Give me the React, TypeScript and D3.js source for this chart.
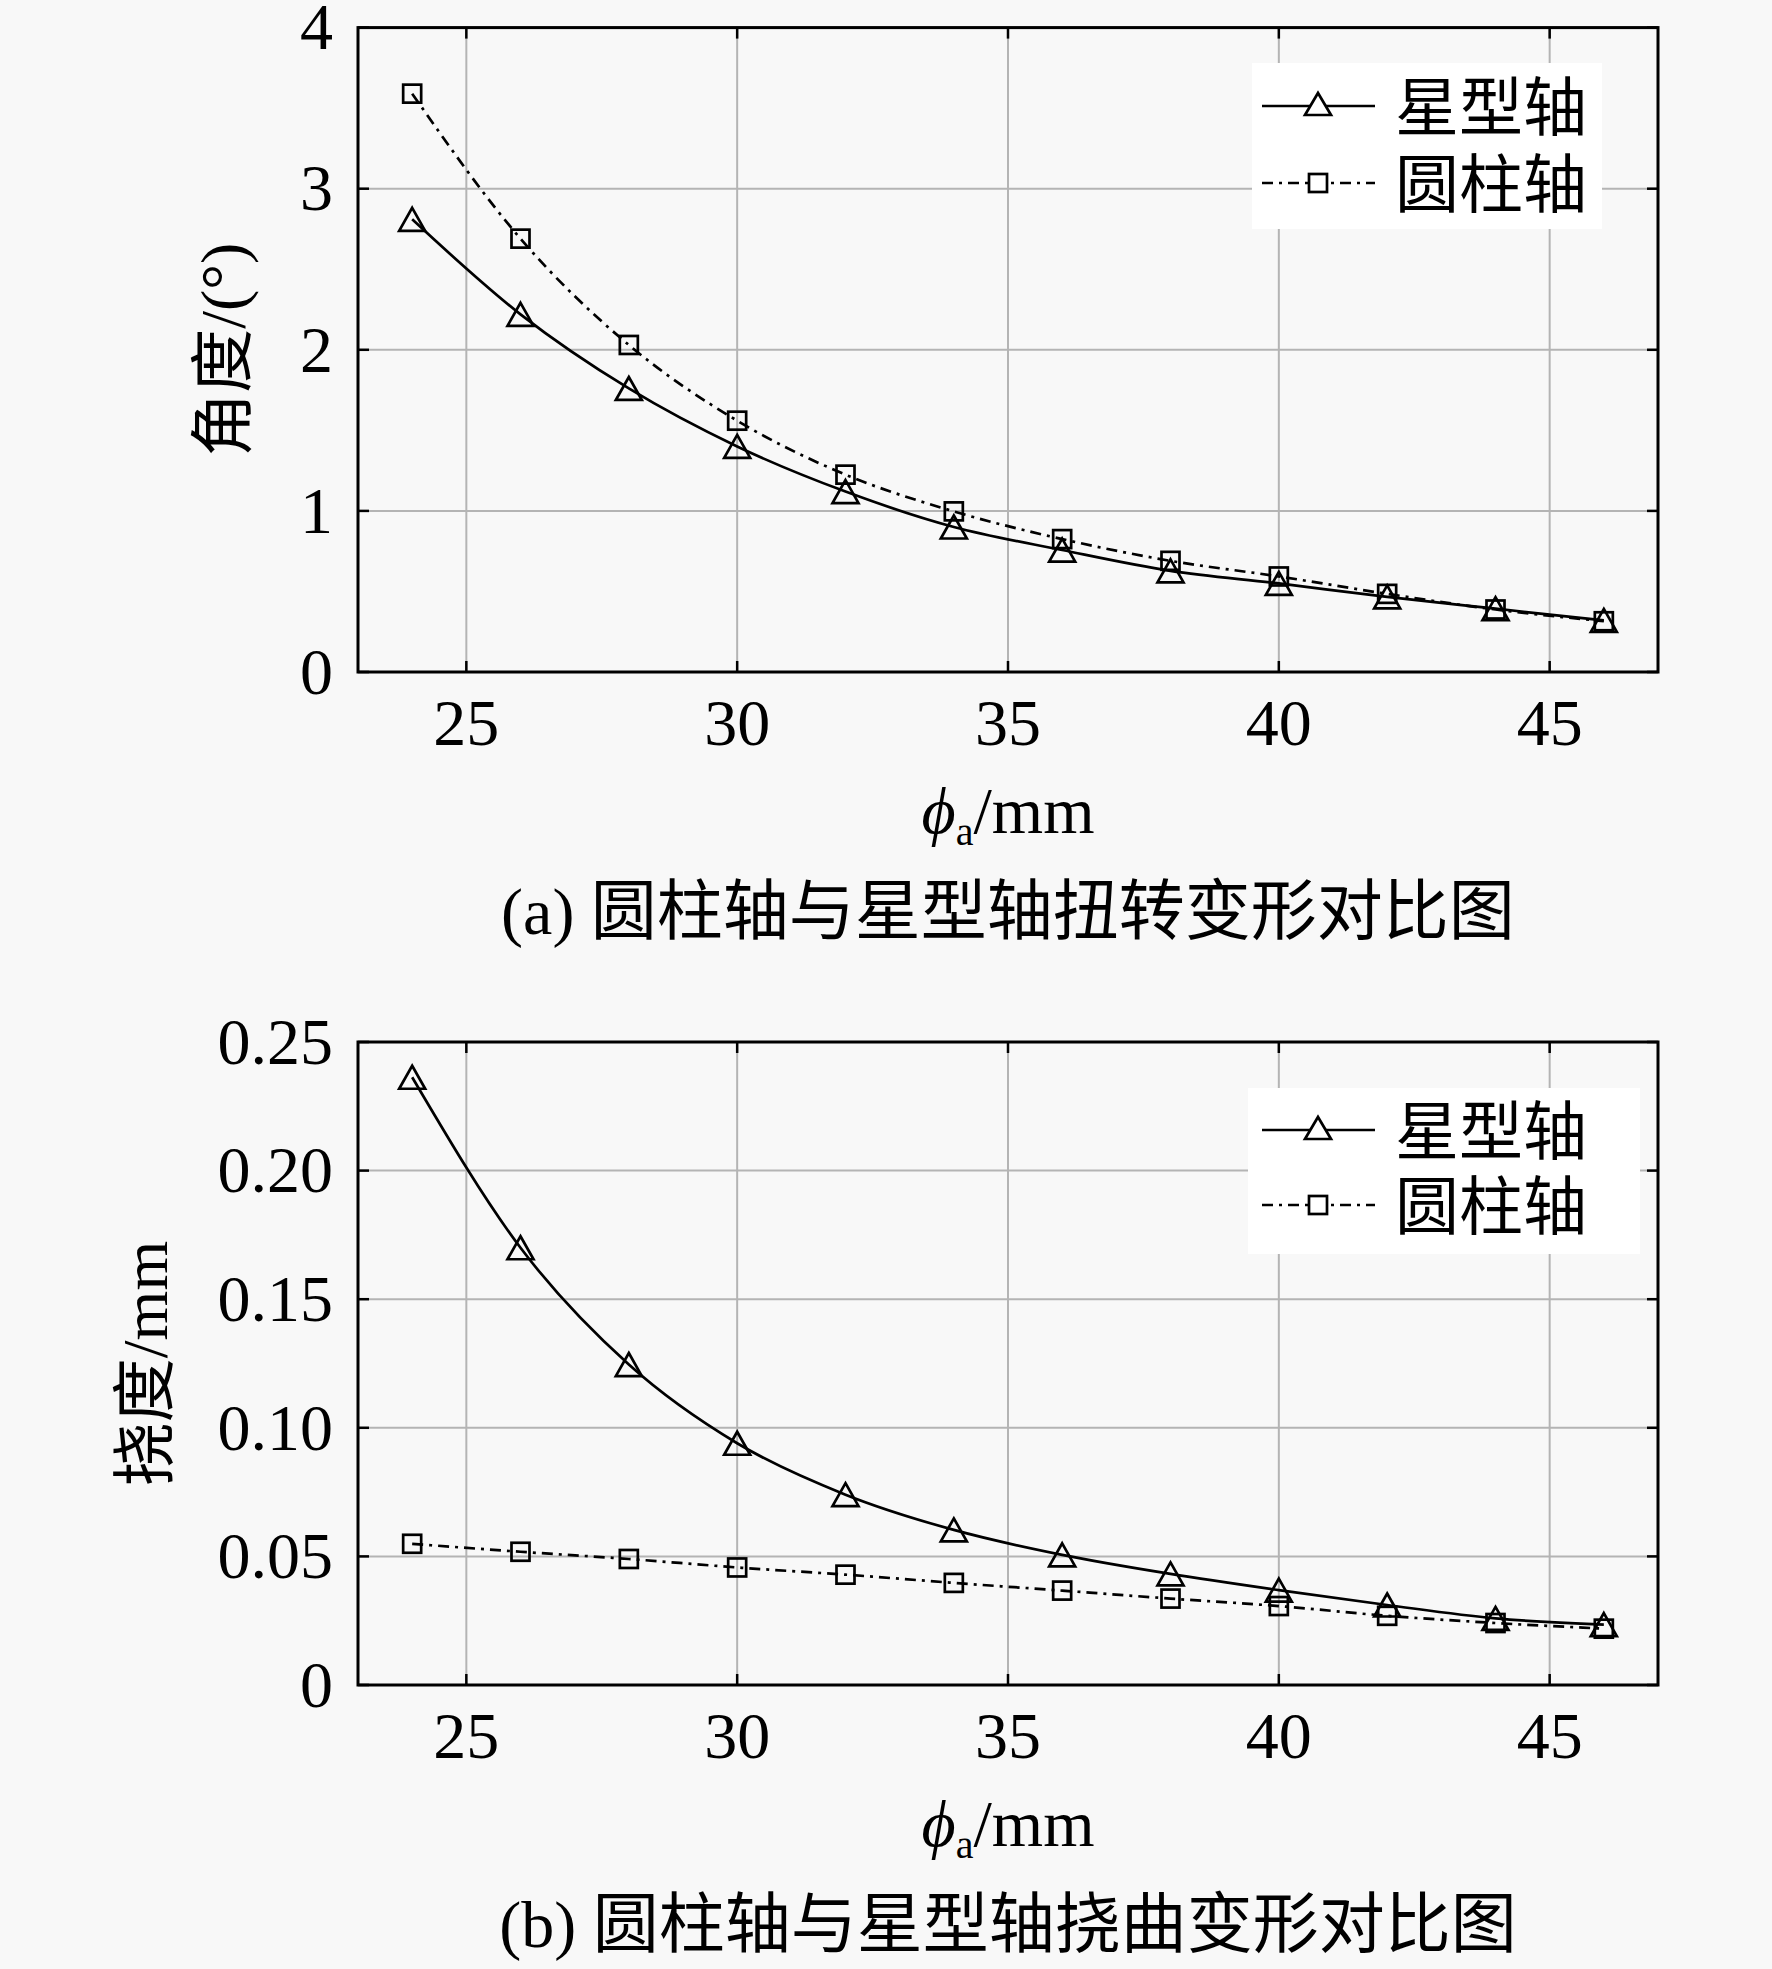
import React from 'react';
import * as d3 from 'd3';

const xs = [24, 26, 28, 30, 32, 34, 36, 38, 40, 42, 44, 46];
const torsionStar = [2.81, 2.22, 1.76, 1.4, 1.12, 0.9, 0.757, 0.628, 0.55, 0.466, 0.393, 0.32];
const torsionCyl = [3.59, 2.69, 2.03, 1.56, 1.225, 0.997, 0.825, 0.69, 0.593, 0.485, 0.388, 0.315];
const bendStar = [0.2363, 0.17, 0.1246, 0.094, 0.074, 0.0603, 0.0506, 0.0432, 0.0369, 0.0311, 0.0259, 0.0235];
const bendCyl = [0.0549, 0.0518, 0.049, 0.0457, 0.0429, 0.0397, 0.0367, 0.0336, 0.0307, 0.0269, 0.0241, 0.0219];

const xTicks = [25, 30, 35, 40, 45];
const torsionTicks = [0, 1, 2, 3, 4];
const torsionTickLabels = ['0', '1', '2', '3', '4'];
const bendTicks = [0, 0.05, 0.1, 0.15, 0.2, 0.25];
const bendTickLabels = ['0', '0.05', '0.10', '0.15', '0.20', '0.25'];
const legendNames = ['星型轴', '圆柱轴'];
const captions = ['(a) 圆柱轴与星型轴扭转变形对比图', '(b) 圆柱轴与星型轴挠曲变形对比图'];
const yLabels = ['角度/(°)', '挠度/mm'];

const FONT = "'Liberation Serif', 'Times New Roman', 'Noto Sans CJK SC', serif";
const BG = '#f8f8f8';
const GRID = '#b4b4b4';
const LEFT = 358;
const RIGHT = 1658;

function triPath(cx: number, cy: number, w = 26, h = 23) {
  return `M${cx},${cy - h / 2}L${cx + w / 2},${cy + h / 2}L${cx - w / 2},${cy + h / 2}Z`;
}

type PanelProps = {
  top: number;
  bottom: number;
  yMax: number;
  ticks: number[];
  tickLabels: string[];
  star: number[];
  cyl: number[];
  yLabel: string;
  yLabelX: number;
  legRows: [number, number];
  legBox: [number, number, number, number];
  caption: string;
};

function Panel(p: PanelProps) {
  const x = d3.scaleLinear().domain([23, 47]).range([LEFT, RIGHT]);
  const y = d3.scaleLinear().domain([0, p.yMax]).range([p.bottom, p.top]);
  const line = d3
    .line<number>()
    .x((_, i) => x(xs[i]))
    .y((d) => y(d))
    .curve(d3.curveMonotoneX);
  const lw = 2.7;
  const cx = (LEFT + RIGHT) / 2;
  const cy = (p.top + p.bottom) / 2;
  const [r1, r2] = p.legRows;
  const [bx0, by0, bx1, by1] = p.legBox;
  const tickLen = 11;
  return (
    <g>
      {/* grid */}
      {xTicks.map((t) => (
        <line key={'gx' + t} x1={x(t)} x2={x(t)} y1={p.top} y2={p.bottom} stroke={GRID} strokeWidth={2} />
      ))}
      {p.ticks.map((t) => (
        <line key={'gy' + t} x1={LEFT} x2={RIGHT} y1={y(t)} y2={y(t)} stroke={GRID} strokeWidth={2} />
      ))}
      {/* series */}
      <path d={line(p.cyl) || ''} fill="none" stroke="#000" strokeWidth={lw} strokeDasharray="11,6,3,6" />
      <path d={line(p.star) || ''} fill="none" stroke="#000" strokeWidth={lw} />
      {p.cyl.map((v, i) => (
        <rect key={'sq' + i} x={x(xs[i]) - 9} y={y(v) - 9} width={18} height={18} fill="none" stroke="#000" strokeWidth={lw} />
      ))}
      {p.star.map((v, i) => (
        <path key={'tr' + i} d={triPath(x(xs[i]), y(v))} fill="none" stroke="#000" strokeWidth={lw} />
      ))}
      {/* legend */}
      <rect x={bx0} y={by0} width={bx1 - bx0} height={by1 - by0} fill="#ffffff" />
      <line x1={1262} x2={1375} y1={r1} y2={r1} stroke="#000" strokeWidth={lw} />
      <path d={triPath(1318, r1 - 2, 26, 22)} fill="#fff" stroke="#000" strokeWidth={lw} />
      <line x1={1262} x2={1375} y1={r2} y2={r2} stroke="#000" strokeWidth={lw} strokeDasharray="11,6,3,6" />
      <rect x={1309} y={r2 - 9} width={18} height={18} fill="#fff" stroke="#000" strokeWidth={lw} />
      <text x={1395} y={r1 + 24} fontSize={64} fontFamily={FONT}>{legendNames[0]}</text>
      <text x={1395} y={r2 + 24} fontSize={64} fontFamily={FONT}>{legendNames[1]}</text>
      {/* frame */}
      <rect x={LEFT} y={p.top} width={RIGHT - LEFT} height={p.bottom - p.top} fill="none" stroke="#000" strokeWidth={3} />
      {/* ticks */}
      {xTicks.map((t) => (
        <g key={'tx' + t}>
          <line x1={x(t)} x2={x(t)} y1={p.bottom} y2={p.bottom - tickLen} stroke="#000" strokeWidth={2.5} />
          <line x1={x(t)} x2={x(t)} y1={p.top} y2={p.top + tickLen} stroke="#000" strokeWidth={2.5} />
          <text x={x(t)} y={p.bottom + 73} fontSize={66} fontFamily={FONT} textAnchor="middle">{t}</text>
        </g>
      ))}
      {p.ticks.map((t, i) => (
        <g key={'ty' + t}>
          <line x1={LEFT} x2={LEFT + tickLen} y1={y(t)} y2={y(t)} stroke="#000" strokeWidth={2.5} />
          <line x1={RIGHT} x2={RIGHT - tickLen} y1={y(t)} y2={y(t)} stroke="#000" strokeWidth={2.5} />
          <text x={333} y={y(t)} dy="0.33em" fontSize={66} fontFamily={FONT} textAnchor="end">{p.tickLabels[i]}</text>
        </g>
      ))}
      {/* labels */}
      <text
        transform={`translate(${p.yLabelX},${cy}) rotate(-90)`}
        dy="0.36em"
        fontSize={64}
        fontFamily={FONT}
        textAnchor="middle"
      >
        {p.yLabel}
      </text>
      <text x={cx} y={p.bottom + 161} fontSize={66} fontFamily={FONT} textAnchor="middle">
        <tspan fontStyle="italic">ϕ</tspan>
        <tspan fontSize={40} dy={12}>a</tspan>
        <tspan dy={-12}>/mm</tspan>
      </text>
      <text x={cx} y={p.bottom + 262} fontSize={66} fontFamily={FONT} textAnchor="middle">
        {p.caption}
      </text>
    </g>
  );
}

export default function App() {
  return (
    <svg
      width={1772}
      height={1969}
      viewBox="0 0 1772 1969"
      style={{ position: 'absolute', left: 0, top: 0, background: BG }}
    >
      <rect x={0} y={0} width={1772} height={1969} fill={BG} />
      <Panel
        top={27.6}
        bottom={672}
        yMax={4}
        ticks={torsionTicks}
        tickLabels={torsionTickLabels}
        star={torsionStar}
        cyl={torsionCyl}
        yLabel={yLabels[0]}
        yLabelX={222}
        legRows={[106, 183]}
        legBox={[1252, 63, 1602, 229]}
        caption={captions[0]}
      />
      <Panel
        top={1042}
        bottom={1685}
        yMax={0.25}
        ticks={bendTicks}
        tickLabels={bendTickLabels}
        star={bendStar}
        cyl={bendCyl}
        yLabel={yLabels[1]}
        yLabelX={144}
        legRows={[1130, 1205]}
        legBox={[1248, 1088, 1640, 1254]}
        caption={captions[1]}
      />
    </svg>
  );
}
